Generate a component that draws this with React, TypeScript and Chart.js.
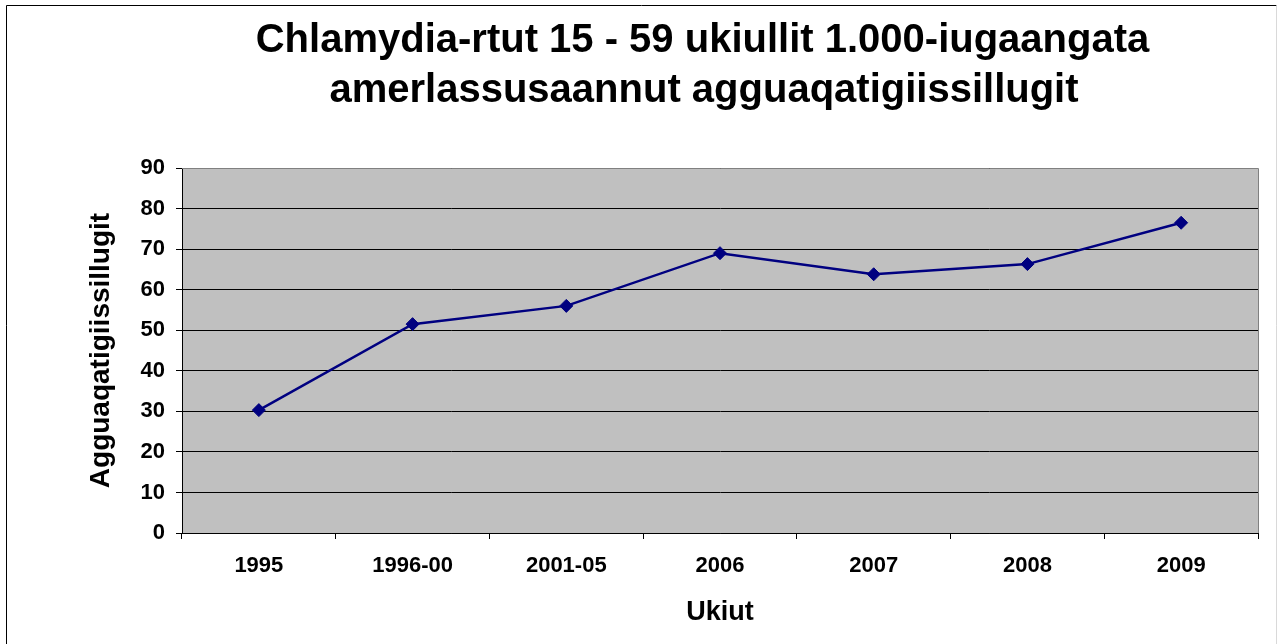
import React, { useEffect, useRef } from 'react';
import { Chart, registerables } from 'chart.js';

Chart.register(...registerables);

const categories = ['1995', '1996-00', '2001-05', '2006', '2007', '2008', '2009'];
const values = [30.3, 51.5, 56.0, 69.0, 63.8, 66.3, 76.5];
const titleLines = ['Chlamydia-rtut 15 - 59 ukiullit 1.000-iugaangata', 'amerlassusaannut agguaqatigiissillugit'];
const yAxisTitle = 'Agguaqatigiissillugit';
const xAxisTitle = 'Ukiut';
const yMin = 0;
const yMax = 90;
const yStep = 10;

const FONT = "'Liberation Sans', Arial, sans-serif";

const framePlugin = {
  id: 'frame',
  beforeDraw(chart: any) {
    const { ctx, chartArea: a } = chart;
    ctx.save();
    ctx.fillStyle = '#ffffff';
    ctx.fillRect(0, 0, chart.width, chart.height);
    ctx.fillStyle = '#C0C0C0';
    ctx.fillRect(a.left, a.top, a.right - a.left, a.bottom - a.top);
    ctx.lineWidth = 1;
    ctx.strokeStyle = '#000000';
    ctx.beginPath();
    ctx.moveTo(6.5, 700);
    ctx.lineTo(6.5, 5.5);
    ctx.lineTo(1276.5, 5.5);
    ctx.stroke();
    ctx.strokeStyle = '#d9d9d9';
    ctx.beginPath();
    ctx.moveTo(1276.5, 5.5);
    ctx.lineTo(1276.5, 700);
    ctx.stroke();
    ctx.restore();
  },
  beforeDatasetsDraw(chart: any) {
    const { ctx, chartArea: a } = chart;
    ctx.save();
    ctx.lineWidth = 1;
    ctx.strokeStyle = '#808080';
    ctx.beginPath();
    ctx.moveTo(a.left, Math.round(a.top) + 0.5);
    ctx.lineTo(Math.round(a.right) + 0.5, Math.round(a.top) + 0.5);
    ctx.lineTo(Math.round(a.right) + 0.5, a.bottom);
    ctx.stroke();
    ctx.restore();
  },
  afterDraw(chart: any) {
    const { ctx } = chart;
    ctx.save();
    ctx.fillStyle = '#000000';
    ctx.font = `bold 40px ${FONT}`;
    ctx.textAlign = 'center';
    ctx.textBaseline = 'alphabetic';
    ctx.fillText(titleLines[0], 702.5, 51.7);
    ctx.fillText(titleLines[1], 704, 102.3);
    ctx.restore();
  },
};

export default function App() {
  const ref = useRef<HTMLCanvasElement | null>(null);

  useEffect(() => {
    if (!ref.current) return;
    const chart = new Chart(ref.current, {
      type: 'line',
      data: {
        labels: categories,
        datasets: [
          {
            data: values,
            borderColor: '#000080',
            backgroundColor: '#000080',
            borderWidth: 2.5,
            pointStyle: 'rectRot',
            pointRadius: 6.5,
            pointBorderWidth: 1,
            pointBackgroundColor: '#000080',
            pointBorderColor: '#000080',
            tension: 0,
            fill: false,
          },
        ],
      },
      options: {
        responsive: false,
        animation: false,
        layout: { padding: { left: 80, right: 21, top: 168, bottom: 0 } },
        plugins: {
          legend: { display: false },
          title: { display: false },
          tooltip: { enabled: false },
        },
        scales: {
          x: {
            type: 'category',
            offset: true,
            grid: {
              offset: true,
              drawOnChartArea: false,
              drawTicks: true,
              tickLength: 6,
              color: '#000000',
            },
            border: { display: true, color: '#000000', width: 1 },
            ticks: {
              color: '#000000',
              font: { family: FONT, size: 22, weight: 'bold' },
              padding: 14,
              maxRotation: 0,
            },
            title: {
              display: true,
              text: xAxisTitle,
              color: '#000000',
              font: { family: FONT, size: 27, weight: 'bold' },
              padding: { top: 0, bottom: 15 },
            },
            afterFit(scale: any) {
              scale.height = 111;
            },
          },
          y: {
            min: yMin,
            max: yMax,
            grid: {
              color: '#000000',
              lineWidth: 1,
              drawTicks: true,
              tickLength: 6,
            },
            border: { display: true, color: '#000000', width: 1 },
            ticks: {
              stepSize: yStep,
              color: '#000000',
              font: { family: FONT, size: 22, weight: 'bold' },
              padding: 11,
            },
            title: {
              display: true,
              text: yAxisTitle,
              color: '#000000',
              font: { family: FONT, size: 28, weight: 'bold' },
              padding: { top: 4, bottom: 0 },
            },
            afterFit(scale: any) {
              scale.width = 102;
            },
          },
        },
      },
      plugins: [framePlugin],
    } as any);
    return () => chart.destroy();
  }, []);

  return (
    <div style={{ position: 'fixed', left: 0, top: 0, width: 1279, height: 644, background: '#fff' }}>
      <canvas ref={ref} width={1279} height={644} style={{ display: 'block', width: 1279, height: 644 }} />
    </div>
  );
}
